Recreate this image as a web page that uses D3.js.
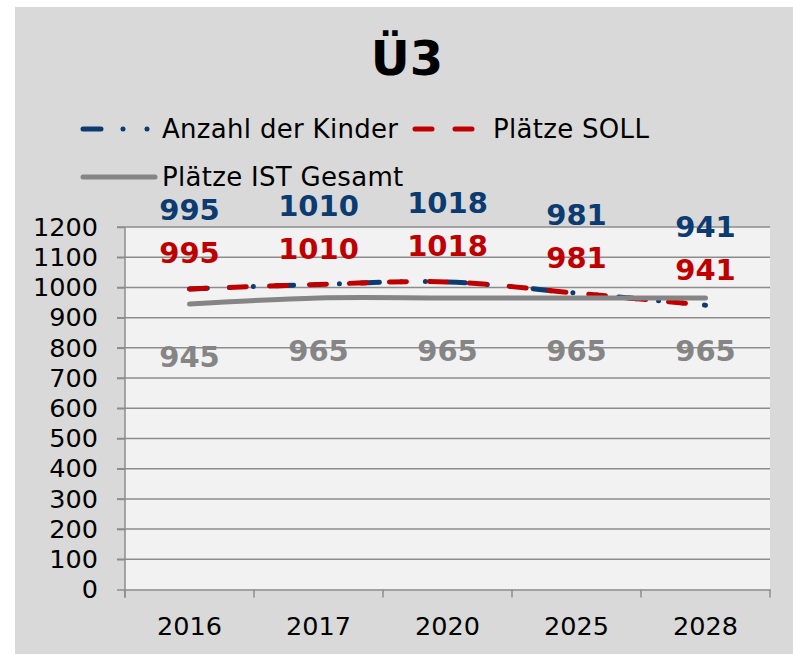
<!DOCTYPE html>
<html>
<head>
<meta charset="utf-8">
<script src="https://cdn.jsdelivr.net/npm/d3@7"></script>
<style>
  html, body { margin: 0; padding: 0; background: #fff; }
  svg { display: block; font-family: "DejaVu Sans", Verdana, sans-serif; }
</style>
</head>
<body>
<div id="chart"></div>
<script>
// data
const years      = ["2016", "2017", "2020", "2025", "2028"];
const anzahl     = [995, 1010, 1018, 981, 941];
const platzeSoll = [995, 1010, 1018, 981, 941];
const platzeIst  = [945, 965, 965, 965, 965];
const yTicks     = [0, 100, 200, 300, 400, 500, 600, 700, 800, 900, 1000, 1100, 1200];

// series + styling
const series = [
  { name: "Anzahl der Kinder", values: anzahl,     color: "#0b3b70", dash: "18 22 0 24 0 22", labelDy: -79 },
  { name: "Plätze SOLL",       values: platzeSoll, color: "#c00000", dash: "17 23",           labelDy: -36 },
  { name: "Plätze IST Gesamt", values: platzeIst,  color: "#858585", dash: null,              labelDy: 53 }
];

const W = 793, H = 654;
const plot = { left: 125, right: 770, top: 227, bottom: 589.5 };
const axisFont = "25.5px";

const svg = d3.select("#chart").append("svg")
  .attr("width", W)
  .attr("height", H);

// hintergrund
svg.append("rect")
  .attr("x", 15).attr("y", 7)
  .attr("width", W - 15).attr("height", H - 7)
  .attr("fill", "#d9d9d9");

svg.append("rect")
  .attr("x", plot.left).attr("y", plot.top)
  .attr("width", plot.right - plot.left).attr("height", plot.bottom - plot.top)
  .attr("fill", "#f2f2f2");

// skalen
const x = d3.scaleBand().domain(years).range([plot.left, plot.right]).padding(0);
const y = d3.scaleLinear().domain([0, 1200]).range([plot.bottom, plot.top]);
const cx = d => x(d) + x.bandwidth() / 2;

// gitter
svg.append("g")
  .selectAll("line")
  .data(yTicks.filter(t => t > 0))
  .join("line")
  .attr("x1", plot.left - 8).attr("x2", plot.right)
  .attr("y1", d => y(d)).attr("y2", d => y(d))
  .attr("stroke", "#8c8c8c")
  .attr("stroke-width", 1.5);

// y-achse
const yAxis = svg.append("g")
  .attr("transform", `translate(${plot.left},0)`)
  .call(d3.axisLeft(y).tickValues(yTicks).tickFormat(d3.format("d"))
    .tickSize(8).tickPadding(19).tickSizeOuter(0));
yAxis.select(".domain").attr("stroke", "#8c8c8c").attr("stroke-width", 1.5)
  .attr("d", `M0,${plot.top}V${plot.bottom + 8}`);
yAxis.selectAll(".tick line").attr("stroke", "#8c8c8c").attr("stroke-width", 1.5);
yAxis.selectAll(".tick text")
  .attr("fill", "#000")
  .style("font-size", axisFont)
  .style("font-family", "'DejaVu Sans', Verdana, sans-serif");

// x-achse
const xAxis = svg.append("g")
  .attr("transform", `translate(0,${plot.bottom})`)
  .call(d3.axisBottom(x).tickSize(0).tickPadding(27).tickSizeOuter(0));
xAxis.select(".domain").attr("stroke", "#8c8c8c").attr("stroke-width", 1.5);
xAxis.selectAll(".tick text")
  .attr("fill", "#000")
  .style("font-size", axisFont)
  .style("font-family", "'DejaVu Sans', Verdana, sans-serif");

// tick-striche an kategoriegrenzen
svg.append("g")
  .selectAll("line")
  .data(years.concat(["end"]))
  .join("line")
  .attr("x1", (d, i) => plot.left + i * x.bandwidth())
  .attr("x2", (d, i) => plot.left + i * x.bandwidth())
  .attr("y1", plot.bottom).attr("y2", plot.bottom + 8)
  .attr("stroke", "#8c8c8c")
  .attr("stroke-width", 1.5);

// linien
const line = d3.line()
  .x((d, i) => cx(years[i]))
  .y(d => y(d))
  .curve(d3.curveCatmullRom.alpha(0.5));

series.forEach(s => {
  svg.append("path")
    .datum(s.values)
    .attr("d", line)
    .attr("fill", "none")
    .attr("stroke", s.color)
    .attr("stroke-width", 5)
    .attr("stroke-linecap", "round")
    .attr("stroke-dasharray", s.dash);
});

// datenbeschriftungen
series.forEach(s => {
  svg.append("g")
    .selectAll("text")
    .data(s.values)
    .join("text")
    .attr("x", (d, i) => cx(years[i]))
    .attr("y", d => y(d) + s.labelDy)
    .attr("dy", "0.36em")
    .attr("text-anchor", "middle")
    .attr("fill", s.color)
    .attr("font-size", "29px")
    .attr("font-weight", "bold")
    .text(d => d);
});

// titel
svg.append("text")
  .attr("x", 407).attr("y", 75)
  .attr("text-anchor", "middle")
  .attr("font-size", "48px")
  .attr("font-weight", "bold")
  .attr("fill", "#000")
  .text("Ü3");

// legende
const legendPos = [
  { x: 83, y: 129 },
  { x: 415, y: 129 },
  { x: 83, y: 177 }
];
const legendLen = [69, 63, 72];
series.forEach((s, i) => {
  const p = legendPos[i];
  svg.append("line")
    .attr("x1", p.x).attr("x2", p.x + legendLen[i])
    .attr("y1", p.y).attr("y2", p.y)
    .attr("stroke", s.color)
    .attr("stroke-width", 5)
    .attr("stroke-linecap", "round")
    .attr("stroke-dasharray", s.dash);
  svg.append("text")
    .attr("x", i === 1 ? p.x + 78 : p.x + 79)
    .attr("y", p.y + 9)
    .attr("font-size", "26px")
    .attr("letter-spacing", "0.3px")
    .attr("fill", "#000")
    .text(s.name);
});
</script>
</body>
</html>
